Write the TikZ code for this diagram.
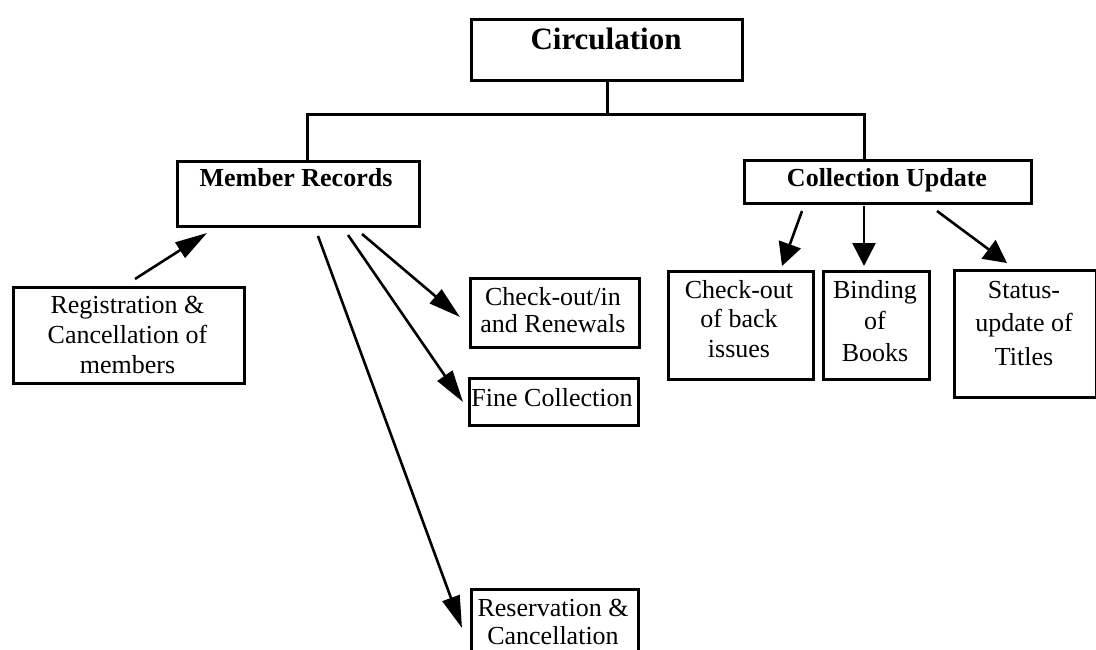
\documentclass[tikz,border=0pt]{standalone}
\usepackage{fontspec}
\setmainfont{Liberation Serif}
\usetikzlibrary{arrows.meta,calc}
\newcommand\ml[1]{\begin{tabular}[t]{@{}c@{}}#1\end{tabular}}
\begin{document}
\begin{tikzpicture}[x=1pt,y=-1pt,
  box/.style={draw, line width=3pt, inner sep=0pt, anchor=north west},
  tree/.style={line width=3pt},
  arr/.style={line width=2.6pt, -{Triangle[length=32pt,width=18pt]}},
  arrb/.style={line width=2.6pt, -{Triangle[length=23pt,width=23pt]}},
  lbl/.style={anchor=base, inner sep=0pt, font=\fontsize{26}{30}\selectfont},
  ttl/.style={anchor=base, inner sep=0pt, font=\bfseries\fontsize{26}{30}\selectfont}]
\useasboundingbox (0,0) rectangle (1096,650);

% boxes
\node[box, minimum width=271pt, minimum height=61pt] (circ) at (470,18) {};
\node[box, minimum width=242pt, minimum height=65pt] (mr) at (176,160) {};
\node[box, minimum width=287pt, minimum height=43pt] (cu) at (743,159) {};
\node[box, minimum width=231pt, minimum height=96pt] (reg) at (12,286) {};
\node[box, minimum width=169pt, minimum height=69pt] (cio) at (469,277) {};
\node[box, minimum width=169pt, minimum height=47pt] (fine) at (468,377) {};
\node[box, minimum width=167pt, minimum height=80pt] (res) at (470,588) {};
\node[box, minimum width=145pt, minimum height=108pt] (cb) at (667,270) {};
\node[box, minimum width=106pt, minimum height=108pt] (bind) at (822,270) {};
\node[box, minimum width=142pt, minimum height=127pt] (stat) at (953,269) {};

% texts
\node[ttl, font=\bfseries\fontsize{31}{36}\selectfont] (circt) at (606,50) {Circulation};
\node[ttl] (mrt) at (296,187) {Member Records};
\node[ttl] (cut) at (887,187) {Collection Update};
\node[lbl] (regt) at (127.5,313) {\ml{Registration \&\\Cancellation of\\members}};
\node[lbl, font=\fontsize{26}{28}\selectfont] (ciot) at (553,305) {\ml{Check-out/in\\and Renewals}};
\node[lbl] (finet) at (552,406) {Fine Collection};
\node[lbl, font=\fontsize{26}{28}\selectfont] (rest) at (553,616) {\ml{Reservation \&\\Cancellation}};
\node[lbl, font=\fontsize{26}{29.5}\selectfont] (cbt) at (739,298) {\ml{Check-out\\of back\\issues}};
\node[lbl, font=\fontsize{26}{32}\selectfont] (bindt) at (875,298) {\ml{Binding\\of\\Books}};
\node[lbl, font=\fontsize{26}{33.5}\selectfont] (statt) at (1024,298) {\ml{Status-\\update of\\Titles}};

% tree connectors
\coordinate (bus) at (607,115);
\draw[tree] ($(circ.south west)+(137,0)$) -- (bus);
\draw[tree] ($(mr.north west)+(131,0)$) |- (bus) -| ($(cu.north west)+(121,0)$);

% arrows
\draw[arr] ($(reg.north west)+(123,-7)$) -- ($(mr.south west)+(31,5)$);
\draw[arr] ($(mr.south west)+(186,6)$) -- ($(cio.north west)+(-9,40)$);
\draw[arr] ($(mr.south west)+(172,7)$) -- ($(fine.north west)+(-5,25)$);
\draw[arr] ($(mr.south west)+(142,8)$) -- ($(res.north west)+(-8,40)$);
\draw[arrb] ($(cu.south west)+(59,6)$) -- ($(cb.north west)+(115,-4)$);
\draw[arrb] ($(cu.south west)+(121,1)$) -- ($(bind.north west)+(42,-4)$);
\draw[arrb] ($(cu.south west)+(194,6)$) -- ($(stat.north west)+(54,-6)$);
\end{tikzpicture}
\end{document}
